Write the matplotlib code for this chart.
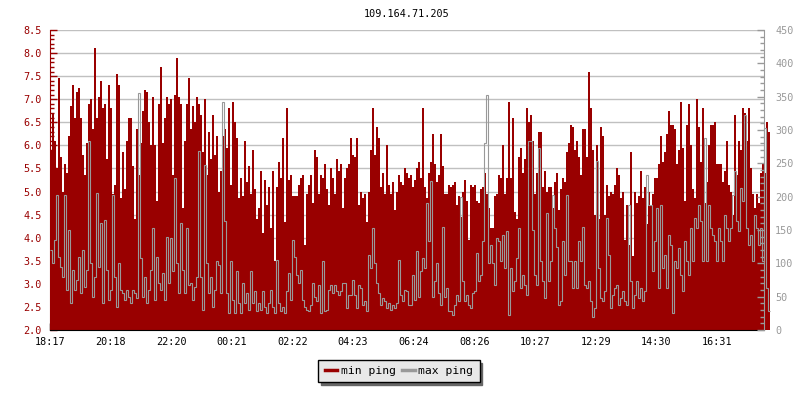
import numpy as np
import matplotlib.pyplot as plt
from matplotlib.ticker import MultipleLocator, FormatStrFormatter

# Datos (una muestra cada 4 minutos, desde las 18:17)
min_ping = [
    # 18:17 - 22:17
    5.9, 6.7, 6.1, 5.5, 7.45, 5.75, 5.0, 5.6, 5.4, 6.2, 6.85, 7.3, 6.6, 7.15, 7.25,
    6.6, 5.8, 5.35, 6.05, 6.9, 7.0, 6.35, 8.1, 6.6, 7.05, 7.4, 6.8, 6.9, 5.7, 7.3,
    6.8, 4.95, 5.15, 7.55, 7.3, 4.85, 5.85, 5.05, 6.1, 6.6, 6.6, 5.55, 4.4, 6.35, 5.35,
    6.05, 6.75, 7.2, 7.15, 6.5, 6.0, 7.05, 6.0, 4.8, 6.9, 7.7, 6.05, 6.6, 7.05, 6.9,
    # 22:17 - 02:17
    7.0, 5.35, 7.1, 7.9, 7.05, 6.9, 4.65, 6.1, 6.9, 7.45, 6.35, 6.85, 6.5, 7.05, 6.9,
    6.65, 5.85, 7.0, 5.35, 6.3, 5.7, 6.65, 5.8, 6.2, 5.0, 5.45, 6.2, 6.35, 5.95, 6.8,
    5.15, 6.95, 6.5, 6.15, 4.85, 5.3, 4.9, 6.1, 5.2, 5.55, 4.95, 5.9, 5.05, 4.4, 4.65,
    5.45, 4.1, 5.25, 4.7, 5.1, 4.2, 5.45, 3.5, 5.1, 5.65, 5.3, 6.15, 4.35, 6.8, 5.25,
    # 02:17 - 06:17
    5.35, 4.9, 4.9, 4.9, 5.15, 5.3, 5.35, 3.85, 4.95, 5.15, 5.35, 4.75, 5.9, 5.75, 4.95,
    5.35, 5.3, 5.6, 5.05, 4.7, 5.5, 5.3, 4.95, 5.7, 5.45, 5.6, 4.65, 5.3, 5.5, 5.6,
    6.15, 5.8, 5.75, 6.15, 4.7, 5.0, 4.85, 4.95, 4.35, 5.0, 5.9, 6.8, 5.8, 6.4, 6.15,
    5.1, 5.4, 4.95, 6.0, 5.15, 4.95, 5.2, 4.6, 5.0, 5.35, 5.2, 5.15, 5.5, 5.4, 5.3,
    # 06:17 - 10:17
    5.35, 5.1, 5.25, 5.5, 5.65, 5.3, 6.8, 5.1, 4.85, 5.4, 5.65, 6.25, 5.6, 5.2, 5.35,
    6.25, 5.55, 4.95, 4.95, 5.15, 5.1, 5.15, 5.2, 4.7, 4.9, 4.45, 5.0, 5.25, 4.8, 3.95,
    5.15, 5.1, 5.15, 4.8, 4.75, 5.05, 5.1, 5.4, 4.95, 4.65, 4.2, 4.2, 4.9, 4.95, 5.35,
    5.3, 6.0, 4.95, 5.3, 6.95, 5.3, 6.6, 4.55, 4.4, 5.75, 5.95, 5.4, 5.7, 6.8, 6.5,
    # 10:17 - 14:17
    6.65, 6.1, 4.95, 5.4, 6.3, 6.3, 5.1, 5.45, 5.0, 5.1, 5.1, 4.65, 5.2, 5.4, 4.6,
    5.05, 5.3, 5.2, 5.85, 6.05, 6.45, 6.4, 5.9, 6.1, 5.75, 5.35, 6.35, 6.35, 5.75, 7.6,
    6.8, 5.9, 4.5, 6.0, 4.4, 6.4, 6.2, 4.5, 5.15, 4.9, 5.0, 4.95, 5.15, 5.5, 5.35,
    4.85, 5.0, 3.95, 4.7, 3.85, 5.85, 3.6, 5.0, 4.75, 4.9, 5.45, 4.85, 5.1, 4.3, 5.0,
    # 14:17 - 18:17
    4.7, 4.95, 5.3, 5.3, 5.6, 6.2, 5.65, 5.85, 6.25, 6.75, 6.45, 6.45, 6.35, 5.6, 5.9,
    6.95, 5.95, 4.8, 6.45, 6.9, 6.0, 5.05, 4.85, 7.0, 6.4, 5.65, 6.8, 4.75, 5.2, 6.0,
    6.45, 6.45, 6.5, 5.6, 5.6, 5.6, 5.2, 5.45, 6.1, 5.15, 5.0, 4.5, 6.65, 5.35, 6.1,
    5.9, 6.8, 6.7, 6.1, 6.8, 5.5, 4.95, 4.65, 4.95, 4.75, 5.4, 5.6, 5.4, 6.5, 6.3,
]

max_ping = [
    # 18:17 - 22:17
    120, 100, 135, 203, 110, 95, 80, 203, 60, 150, 40, 90, 60, 75, 110,
    55, 120, 65, 90, 283, 100, 50, 80, 205, 95, 160, 40, 165, 90, 45,
    60, 203, 80, 35, 100, 60, 55, 45, 60, 50, 40, 60, 55, 48, 355,
    108, 50, 80, 40, 60, 90, 153, 45, 110, 70, 60, 85, 45, 140, 70,
    # 22:17 - 02:17
    138, 88, 228, 100, 55, 160, 90, 55, 153, 68, 70, 45, 65, 80, 268,
    80, 30, 248, 100, 55, 80, 35, 60, 103, 98, 55, 342, 163, 55, 25,
    103, 45, 25, 88, 40, 25, 70, 40, 55, 30, 88, 40, 58, 28, 40,
    30, 58, 35, 25, 40, 60, 35, 25, 105, 40, 28, 35, 25, 58, 85,
    # 02:17 - 06:17
    45, 135, 110, 83, 70, 90, 45, 35, 30, 28, 38, 70, 50, 43, 68,
    25, 103, 28, 30, 60, 68, 55, 68, 58, 53, 58, 70, 70, 33, 53,
    53, 75, 53, 33, 68, 63, 38, 43, 28, 113, 93, 153, 100, 70, 55,
    38, 48, 43, 33, 40, 30, 38, 33, 40, 105, 53, 43, 60, 58, 38,
    # 06:17 - 10:17
    38, 83, 45, 118, 50, 88, 108, 93, 190, 133, 223, 50, 73, 100, 55,
    38, 155, 50, 63, 28, 28, 23, 38, 53, 43, 200, 73, 43, 53, 38,
    33, 55, 58, 115, 73, 83, 133, 280, 353, 100, 128, 100, 68, 138, 133,
    103, 143, 93, 148, 23, 93, 58, 73, 108, 153, 63, 83, 68, 53, 283,
    # 10:17 - 14:17
    283, 150, 83, 68, 273, 103, 73, 48, 175, 73, 103, 203, 153, 125, 38,
    43, 133, 83, 203, 103, 103, 63, 103, 63, 133, 103, 155, 68, 63, 73,
    43, 20, 33, 253, 93, 48, 43, 58, 168, 113, 33, 53, 63, 68, 38,
    48, 58, 43, 38, 188, 73, 33, 53, 73, 48, 63, 43, 58, 233, 188,
    # 14:17 - 18:17
    188, 88, 133, 183, 63, 188, 93, 113, 63, 143, 128, 25, 103, 93, 123,
    83, 58, 133, 103, 83, 153, 103, 168, 153, 188, 163, 103, 288, 103, 188,
    153, 143, 133, 103, 153, 133, 103, 173, 153, 133, 153, 203, 238, 163, 148,
    213, 193, 323, 153, 128, 143, 103, 173, 153, 128, 153, 103, 303, 63, 28,
]

time_labels = ["18:17", "20:18", "22:20", "00:21", "02:22", "04:23",
               "06:24", "08:26", "10:27", "12:29", "14:30", "16:31"]

step_min = 4

def to_min(s):
    h, m = map(int, s.split(":"))
    return (h * 60 + m - (18 * 60 + 17)) % 1440

tick_pos = [to_min(s) for s in time_labels]
edges = np.arange(len(min_ping) + 1) * step_min

red = "#990000"
gray = "#999999"

plt.rcParams.update({'font.family': 'DejaVu Sans Mono', 'font.size': 7.3})

fig = plt.figure(figsize=(8, 4), dpi=100)
ax = fig.add_axes([50 / 800, 70 / 400, 714 / 800, 300 / 400])
ax2 = ax.twinx()

ax.stairs(min_ping, edges, baseline=2.0, fill=True, color=red, clip_on=False, zorder=2)
ax2.stairs(max_ping, edges, baseline=None, color=gray, lw=0.8, clip_on=False)

ax.set_xlim(0, 1428)
ax.set_ylim(2.0, 8.5)
ax2.set_ylim(0, 450)

ax.set_axisbelow(True)
ax.yaxis.set_major_locator(MultipleLocator(0.5))
ax.yaxis.set_minor_locator(MultipleLocator(0.1))
ax.yaxis.set_major_formatter(FormatStrFormatter('%.1f'))
ax.grid(True, axis='y', color='#c0c0c0', lw=1, zorder=0)
ax.set_xticks(tick_pos)
ax.set_xticklabels(time_labels)

ax2.yaxis.set_major_locator(MultipleLocator(50))
ax2.yaxis.set_minor_locator(MultipleLocator(10))

ax.tick_params(axis='x', direction='in', length=5, width=1, pad=5, colors='black')
ax.tick_params(axis='y', which='major', direction='in', length=5, width=1, pad=6,
               colors=red, labelcolor=red)
ax.tick_params(axis='y', which='minor', direction='in', length=3, width=1, colors=red)
ax2.tick_params(axis='y', which='major', direction='in', length=5, width=1, pad=8,
                colors=gray, labelcolor=gray)
ax2.tick_params(axis='y', which='minor', direction='in', length=3, width=1, colors=gray)

for a in (ax, ax2):
    a.spines['top'].set_visible(False)
ax.spines['right'].set_visible(False)
ax.spines['left'].set_color(red)
ax.spines['bottom'].set_color('black')
ax2.spines['left'].set_visible(False)
ax2.spines['bottom'].set_visible(False)
ax2.spines['right'].set_color(gray)

fig.text(407 / 800, 1 - 14 / 400, "109.164.71.205", ha='center', va='center')

handles = [plt.Line2D([], [], color=red, lw=2.5), plt.Line2D([], [], color=gray, lw=2.5)]
fig.legend(handles, ["min ping", "max ping"], loc='center', bbox_to_anchor=(399 / 800, 1 - 371 / 400),
           ncol=2, frameon=True, fancybox=False, edgecolor='black', facecolor='#e8e8e8',
           framealpha=1, shadow={'color': '#666666', 'alpha': 1}, fontsize=8.2,
           handlelength=1.1, handletextpad=0.3, columnspacing=0.6, borderpad=0.55)

plt.savefig("out.png", dpi=100)
